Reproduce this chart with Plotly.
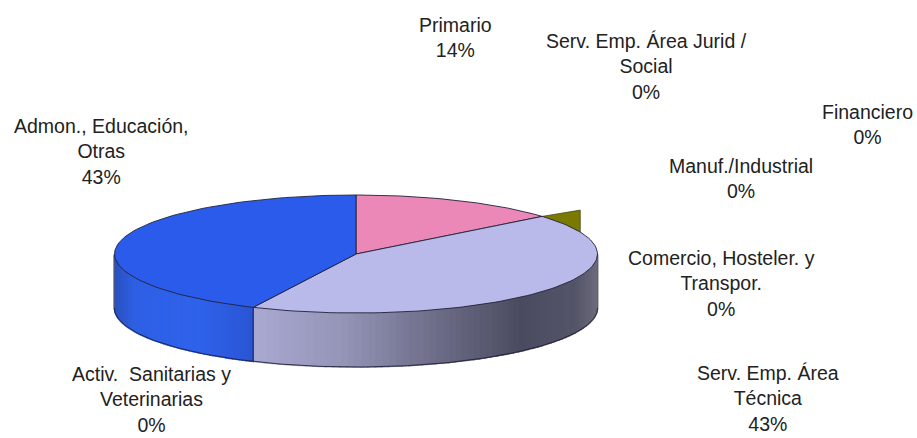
import math
import plotly.graph_objects as go

categories = ["Primario", "Serv. Emp. Área Jurid /<br>Social", "Financiero", "Manuf./Industrial",
              "Comercio, Hosteler. y<br>Transpor.", "Serv. Emp. Área<br>Técnica",
              "Activ.  Sanitarias y<br>Veterinarias", "Admon., Educación,<br>Otras"]
values = [14, 0, 0, 0, 0, 43, 0, 43]
label_x = [455, 646, 867, 741, 721, 768, 151, 101]
label_y = [37, 66, 124, 178, 283, 398, 399, 151]
slice_colors = {0: "#ec88b8", 5: "#babaea", 7: "#2a5bea"}
side_stops = {
    5: [(252, "#a9a9d2"), (340, "#9595b8"), (430, "#6f6f8a"), (520, "#4b4b60"), (575, "#55556a"), (597, "#6c6c7c")],
    7: [(114, "#2a52c0"), (135, "#2e60e6"), (200, "#2f62ea"), (252, "#2a55d4")],
}

CX, CY, RX, RY, DEPTH = 356, 254, 241.5, 59, 54
EDGE = "#20203a"
TOTAL = sum(values)


def rim(frac, r=1.0, dy=0):
    t = 2 * math.pi * frac
    return CX + r * RX * math.sin(t), CY - r * RY * math.cos(t) + dy


def arc(f0, f1, dy=0, n=90):
    pts = [rim(f0 + (f1 - f0) * i / n, dy=dy) for i in range(n + 1)]
    return [p[0] for p in pts], [p[1] for p in pts]


def hex2rgb(h):
    return [int(h[i:i + 2], 16) for i in (1, 3, 5)]


def grad(stops, x):
    if x <= stops[0][0]:
        return stops[0][1]
    for (x0, c0), (x1, c1) in zip(stops, stops[1:]):
        if x <= x1:
            k = (x - x0) / (x1 - x0)
            a, b = hex2rgb(c0), hex2rgb(c1)
            return "rgb(%d,%d,%d)" % tuple(round(a[i] + (b[i] - a[i]) * k) for i in range(3))
    return stops[-1][1]


fig = go.Figure()


def poly(xs, ys, fill, line=None, w=0.0):
    fig.add_trace(go.Scatter(x=xs, y=ys, mode="lines", fill="toself" if fill else "none",
                             fillcolor=fill, line=dict(color=line or "rgba(0,0,0,0)", width=w),
                             hoverinfo="skip", showlegend=False))


# Small olive sliver peeking out behind the rim, just after the first slice
olive_from = values[0] / TOTAL
olive_tip = rim(olive_from + 0.0025, r=1.19)
olive_end = rim(olive_from + 0.0495)
o0 = rim(olive_from)
poly([o0[0], olive_tip[0], olive_end[0], o0[0]], [o0[1], olive_tip[1], olive_end[1], o0[1]],
     "#7a7a00", "#3a3a10", 0.7)

# Slices: side walls first, then top faces
spans = []
acc = 0
for i, v in enumerate(values):
    if v:
        spans.append((i, acc / TOTAL, (acc + v) / TOTAL))
    acc += v

for i, f0, f1 in spans:
    a = max(f0, 0.25)
    b = min(f1, 0.75)
    if a >= b:
        continue
    n = 70
    for k in range(n):
        s0 = a + (b - a) * k / n
        s1 = a + (b - a) * (k + 1) / n
        x0, y0 = rim(s0)
        x1, y1 = rim(s1)
        c = grad(side_stops[i], (x0 + x1) / 2)
        # slight overlap so no seams show between strips
        poly([x0, x1, x1, x0, x0], [y0, y1, y1 + DEPTH, y0 + DEPTH, y0], c, c, 1.6)

# Side outline
bx, by = arc(0.25, 0.75, dy=DEPTH, n=160)
poly(bx, by, None, EDGE, 0.9)
for f in (0.25, 0.75):
    p = rim(f)
    poly([p[0], p[0]], [p[1], p[1] + DEPTH], None, "#555566", 0.6)
p = rim(spans[1][2])
poly([p[0], p[0]], [p[1], p[1] + DEPTH], None, EDGE, 0.8)

for i, f0, f1 in spans:
    ax, ay = arc(f0, f1)
    poly([CX] + ax + [CX], [CY] + ay + [CY], slice_colors[i], EDGE, 0.9)

for cat, v, lx, ly in zip(categories, values, label_x, label_y):
    fig.add_annotation(x=lx, y=ly, xref="x", yref="y", showarrow=False, align="center",
                       text=f"{cat}<br>{round(100 * v / TOTAL)}%",
                       font=dict(family="Liberation Sans", size=19.5, color="#222222"))

fig.update_xaxes(range=[0, 917], visible=False, fixedrange=True)
fig.update_yaxes(range=[438, 0], visible=False, fixedrange=True)
fig.update_layout(width=917, height=438, margin=dict(l=0, r=0, t=0, b=0),
                  paper_bgcolor="white", plot_bgcolor="white", showlegend=False, hovermode=False)
fig.write_html("out.html", config={"displayModeBar": False},
               post_script="document.body.style.margin='0';document.documentElement.style.overflow='hidden';")
